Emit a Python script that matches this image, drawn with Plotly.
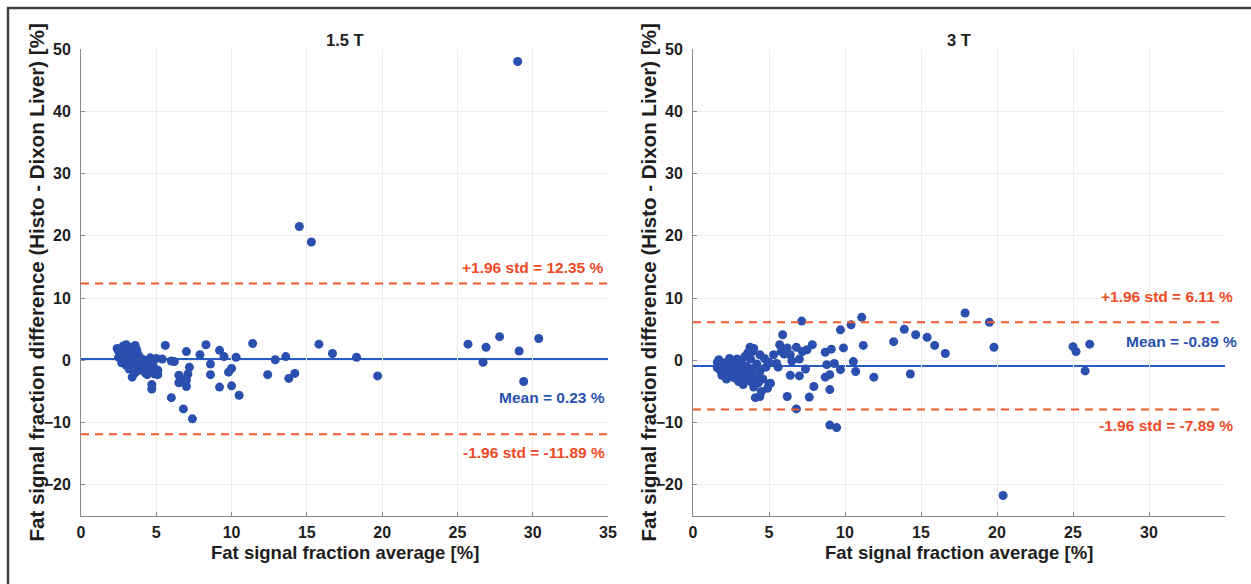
import plotly.graph_objects as go

# ---------------- data ----------------
x_15T = [2.4, 2.6, 2.5, 2.8, 3.0, 3.1, 2.9, 3.2, 3.4, 3.6, 3.7, 3.3, 3.0, 3.5, 3.8, 4.0,
         3.2, 3.5, 3.7, 3.9, 4.2, 4.4, 4.6, 4.1, 3.6, 3.4, 4.3, 4.5, 4.8, 5.0, 4.9, 5.1,
         4.7, 4.7, 3.8, 3.0, 4.4, 4.1, 5.1, 3.4, 2.7, 2.5,
         5.6, 5.4, 6.0, 6.2, 7.0, 7.2, 7.1, 6.5, 6.6, 6.5, 7.0, 7.0, 6.0, 6.8, 7.4,
         8.3, 7.9, 8.6, 8.6, 9.2, 9.5, 10.3, 10.0, 9.8, 9.2, 10.0, 10.5, 11.4,
         12.9, 13.6, 12.4, 13.8, 14.2, 14.5, 15.3, 15.8, 16.7, 18.3, 19.7,
         25.7, 26.9, 27.8, 26.7, 29.1, 30.4, 29.4, 29.0]
y_15T = [1.9, 1.1, 0.5, 2.3, 2.5, 1.6, 0.3, 0.9, 2.1, 2.4, 1.7, -0.2, -0.8, 0.4, 0.9, 0.3,
         -1.4, -1.0, -0.5, -1.6, 0.0, -0.7, 0.4, -1.2, -2.0, -2.7, -2.1, -1.6, -0.9, 0.3, -2.2, -1.6,
         -3.9, -4.6, 0.0, 0.1, -2.3, -0.7, -2.3, 1.2, -0.4, 1.5,
         2.4, 0.2, -0.1, -0.2, 1.4, -1.1, -2.2, -2.4, -2.9, -3.6, -3.2, -4.2, -6.0, -7.8, -9.4,
         2.5, 0.9, -0.6, -2.3, 1.6, 0.6, 0.5, -1.3, -1.9, -4.3, -4.1, -5.6, 2.7,
         0.1, 0.6, -2.3, -2.9, -2.1, 21.5, 19.0, 2.6, 1.1, 0.5, -2.5,
         2.6, 2.1, 3.8, -0.3, 1.5, 3.5, -3.4, 48.0]

x_3T = [1.6, 1.7, 1.6, 1.8, 1.9, 2.0, 2.1, 2.2, 2.3, 2.4, 2.5, 2.6, 2.7, 2.8, 2.9, 3.0,
        3.0, 3.1, 3.2, 3.3, 3.3, 3.4, 3.5, 3.5, 3.6, 3.7, 3.8, 3.8, 3.9, 4.0, 4.0, 4.1,
        4.2, 4.3, 4.4, 4.4, 4.5, 4.6, 4.7, 4.8, 4.9, 5.0, 5.1, 5.3, 5.5, 5.6, 4.1, 4.4,
        3.75, 5.0, 2.2, 1.9, 2.6, 3.9,
        5.7, 5.8, 5.9, 6.0, 6.2, 6.4, 6.5, 6.8, 7.0, 7.2, 6.4, 7.0, 7.4, 7.15, 7.5, 7.85,
        7.95, 7.65, 6.2, 6.8, 8.7, 8.8, 8.7, 9.0, 9.0, 9.1, 9.3, 9.7, 9.9, 9.7, 10.4,
        11.1, 11.2, 10.7, 10.55, 11.9, 9.0, 9.45,
        13.2, 13.9, 14.65, 15.4, 15.9, 16.6, 14.3, 17.9, 19.5, 19.8, 20.4,
        25.0, 25.2, 26.1, 25.8]
y_3T = [-0.3, 0.1, -1.2, -1.6, -0.8, -1.9, -0.4, -1.2, -2.3, 0.3, -1.5, -0.8, -2.8, -1.9, 0.2, -1.1,
        -3.4, -2.4, -0.5, -3.9, -1.6, 0.6, -2.9, -0.9, 1.2, -2.1, -3.4, 0.2, -1.3, -4.3, 1.9, -2.6,
        -0.6, -3.6, 0.9, -1.8, -5.0, -3.0, 0.3, -1.1, -4.5, -0.3, -3.7, 0.9, -0.5, -1.1, -6.0, -5.8,
        2.1, -3.8, -3.0, -2.4, 0.0, 1.4,
        2.5, 1.4, 4.1, 1.0, 2.0, 0.9, -0.1, 2.1, 0.2, 1.4, -2.4, -2.5, -1.4, 6.3, 1.7, 2.5,
        -4.2, -5.9, -5.8, -7.8, 1.3, -0.7, -2.7, -2.3, -4.7, 1.8, -0.5, -1.5, 2.0, 4.9, 5.7,
        6.9, 2.4, -1.8, -0.2, -2.7, -10.4, -10.8,
        3.0, 5.0, 4.1, 3.7, 2.4, 1.1, -2.2, 7.6, 6.1, 2.1, -21.7,
        2.2, 1.4, 2.6, -1.7]

mean_15T, upper_15T, lower_15T = 0.23, 12.35, -11.89
mean_3T, upper_3T, lower_3T = -0.89, 6.11, -7.89

x_ticks_15T = [0, 5, 10, 15, 20, 25, 30, 35]
x_ticks_3T = [0, 5, 10, 15, 20, 25, 30]
y_ticks = [-20, -10, 0, 10, 20, 30, 40, 50]
x_range = [0, 35]
y_range = [-25, 50]

titles = ["1.5 T", "3 T"]
x_title = "Fat signal fraction average [%]"
y_title = "Fat signal fraction difference (Histo - Dixon Liver) [%]"

# ---------------- style ----------------
W, H = 1251, 584
BLUE_PT = "#2b4fae"
BLUE_LINE = "#2a5cc6"
RED = "#f2592e"
RED_TXT = "#ee4a26"
BLUE_TXT = "#2a52ae"
FONT = "Liberation Sans, Arial, Helvetica, sans-serif"
TXT = "#1e1e1e"

def px_x(p):
    return p / W

def px_y(p):
    return 1 - p / H

dom_x1 = [px_x(81), px_x(608)]
dom_x2 = [px_x(693), px_x(1225)]
dom_y = [px_y(516), px_y(49)]

fig = go.Figure()
fig.add_trace(go.Scatter(x=x_15T, y=y_15T, mode="markers", xaxis="x", yaxis="y",
                         marker=dict(color=BLUE_PT, size=9, line=dict(width=0)),
                         showlegend=False, cliponaxis=False))
fig.add_trace(go.Scatter(x=x_3T, y=y_3T, mode="markers", xaxis="x2", yaxis="y2",
                         marker=dict(color=BLUE_PT, size=9, line=dict(width=0)),
                         showlegend=False, cliponaxis=False))

shapes = []
for xr, yr, m, u, l in [("x", "y", mean_15T, upper_15T, lower_15T),
                        ("x2", "y2", mean_3T, upper_3T, lower_3T)]:
    for val in (u, l):
        shapes.append(dict(type="line", xref=xr + " domain", yref=yr, x0=0, x1=1, y0=val, y1=val,
                           line=dict(color=RED, width=2, dash="8px,6px"), layer="above"))
    shapes.append(dict(type="line", xref=xr + " domain", yref=yr, x0=0, x1=1, y0=m, y1=m,
                       line=dict(color=BLUE_LINE, width=2), layer="below"))

# outer frame
shapes.append(dict(type="rect", xref="paper", yref="paper",
                   x0=px_x(8), x1=px_x(W + 10), y0=px_y(8), y1=px_y(H + 10),
                   line=dict(color="#444444", width=2.5), fillcolor="rgba(0,0,0,0)"))

ann_font = dict(family=FONT, size=15.5, weight="bold")
ann_specs = [
    ("y", 606, 14.85, f"+1.96 std = {upper_15T:.2f} %", RED_TXT),
    ("y", 607, -6.0, f"Mean = {mean_15T:.2f} %", BLUE_TXT),
    ("y", 607, -14.85, f"-1.96 std = {lower_15T:.2f} %", RED_TXT),
    ("y2", 1235, 10.2, f"+1.96 std = {upper_3T:.2f} %", RED_TXT),
    ("y2", 1239, 2.95, f"Mean = {mean_3T:.2f} %", BLUE_TXT),
    ("y2", 1235, -10.5, f"-1.96 std = {lower_3T:.2f} %", RED_TXT),
]
annotations = []
for yr, xpx, yv, txt, col in ann_specs:
    annotations.append(dict(xref="paper", yref=yr, x=px_x(xpx), y=yv, text=txt,
                            xanchor="right", yanchor="middle", showarrow=False,
                            font=dict(ann_font, color=col)))

title_font = dict(family=FONT, size=16.5, weight="bold", color=TXT)
xtitle_font = dict(family=FONT, size=18.5, weight="bold", color=TXT)
ytitle_font = dict(family=FONT, size=20.5, weight="bold", color=TXT)
for dom, t, ytx in [(dom_x1, titles[0], px_x(36)), (dom_x2, titles[1], px_x(648))]:
    cx = (dom[0] + dom[1]) / 2
    annotations.append(dict(xref="paper", yref="paper", x=cx, y=px_y(40), text=t,
                            showarrow=False, xanchor="center", yanchor="middle", font=title_font))
    annotations.append(dict(xref="paper", yref="paper", x=cx, y=px_y(552), text=x_title,
                            showarrow=False, xanchor="center", yanchor="middle", font=xtitle_font))
    annotations.append(dict(xref="paper", yref="paper", x=ytx, y=(dom_y[0] + dom_y[1]) / 2,
                            text=y_title, textangle=-90, showarrow=False,
                            xanchor="center", yanchor="middle", font=ytitle_font))

tick_font = dict(family=FONT, size=16, weight="bold", color=TXT)
axis_common = dict(showgrid=True, gridcolor="#ececec", gridwidth=1, zeroline=False,
                   showline=True, linecolor="#8a8a8a", linewidth=1, ticks="inside",
                   ticklen=4, tickcolor="#8a8a8a", tickfont=tick_font, automargin=False)

fig.update_layout(
    width=W, height=H, margin=dict(l=0, r=0, t=0, b=0),
    paper_bgcolor="white", plot_bgcolor="white",
    font=dict(family=FONT, color=TXT),
    xaxis=dict(axis_common, domain=dom_x1, range=x_range, tickvals=x_ticks_15T,
               anchor="y", ticklabelstandoff=2),
    yaxis=dict(axis_common, domain=dom_y, range=y_range, tickvals=y_ticks,
               anchor="x", ticklabelstandoff=6),
    xaxis2=dict(axis_common, domain=dom_x2, range=x_range, tickvals=x_ticks_3T,
                anchor="y2", ticklabelstandoff=2),
    yaxis2=dict(axis_common, domain=dom_y, range=y_range, tickvals=y_ticks,
                anchor="x2", ticklabelstandoff=6),
    shapes=shapes, annotations=annotations, showlegend=False,
)

fig.write_html("out.html")
